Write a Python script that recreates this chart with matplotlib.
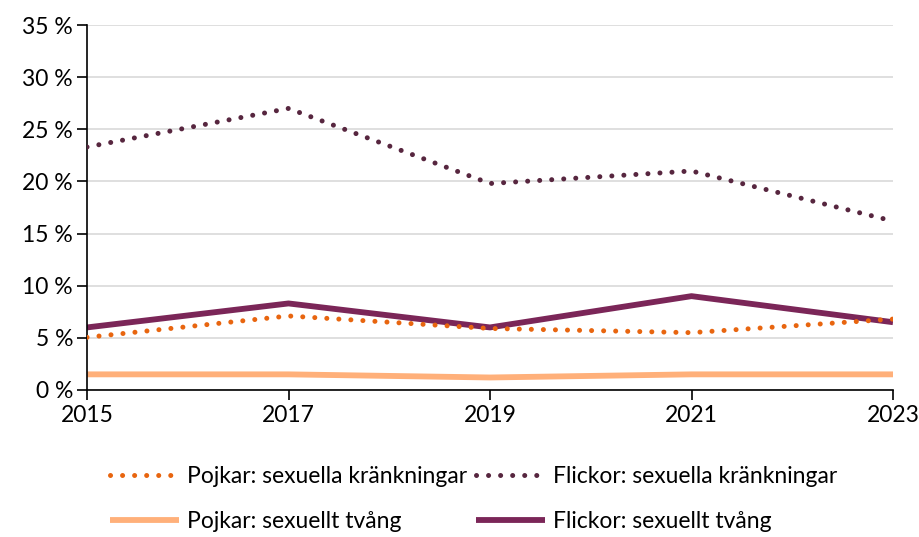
import matplotlib
matplotlib.use("Agg")
import matplotlib.pyplot as plt
from matplotlib.ticker import FuncFormatter

years = [2015, 2017, 2019, 2021, 2023]
pojkar_kr = [5.05, 7.1, 5.9, 5.5, 6.8]
flickor_kr = [23.3, 27.0, 19.8, 21.0, 16.2]
pojkar_tv = [1.5, 1.5, 1.2, 1.5, 1.5]
flickor_tv = [6.0, 8.3, 6.0, 9.0, 6.5]
labels = ["Pojkar: sexuella kränkningar", "Flickor: sexuella kränkningar",
          "Pojkar: sexuellt tvång", "Flickor: sexuellt tvång"]

plt.rcParams['font.family'] = ['Lato', 'DejaVu Sans']

fig = plt.figure(figsize=(9.2, 5.37), dpi=100)
ax = fig.add_axes([87/920, 1-390/537, (893-87)/920, (390-25)/537])

dot = (0, (0.01, 2.4))
l1, = ax.plot(years, pojkar_kr, color='#E8650F', lw=3.6, linestyle=dot, dash_capstyle='round', zorder=3)
l2, = ax.plot(years, flickor_kr, color='#57263F', lw=3.6, linestyle=dot, dash_capstyle='round', zorder=3)
l3, = ax.plot(years, pojkar_tv, color='#FFB07A', lw=4.2, solid_capstyle='butt', zorder=2)
l4, = ax.plot(years, flickor_tv, color='#7B2658', lw=4.2, solid_capstyle='butt', zorder=2)

ax.set_xlim(2015, 2023)
ax.set_ylim(0, 35)
ax.set_xticks(years)
ax.set_yticks(range(0, 36, 5))
ax.yaxis.set_major_formatter(FuncFormatter(lambda v, p: f"{int(v)} %"))
ax.grid(axis='y', color='#d9d9d9', lw=1.2)
ax.set_axisbelow(True)
for s in ['top', 'right']:
    ax.spines[s].set_visible(False)
for s in ['left', 'bottom']:
    ax.spines[s].set_color('black')
    ax.spines[s].set_linewidth(1.2)
ax.tick_params(axis='both', direction='out', length=7, width=1.2, labelsize=16.5, colors='black')
ax.tick_params(axis='y', pad=3)
ax.tick_params(axis='x', pad=4)

fig.legend([l1, l3, l2, l4], [labels[0], labels[2], labels[1], labels[3]], ncol=2,
           loc='center', bbox_to_anchor=(0.515, 0.07),
           frameon=False, fontsize=16.5, handlelength=3.0, columnspacing=0.4,
           handletextpad=0.35, labelspacing=1.05)

fig.savefig("out.png", dpi=100)
